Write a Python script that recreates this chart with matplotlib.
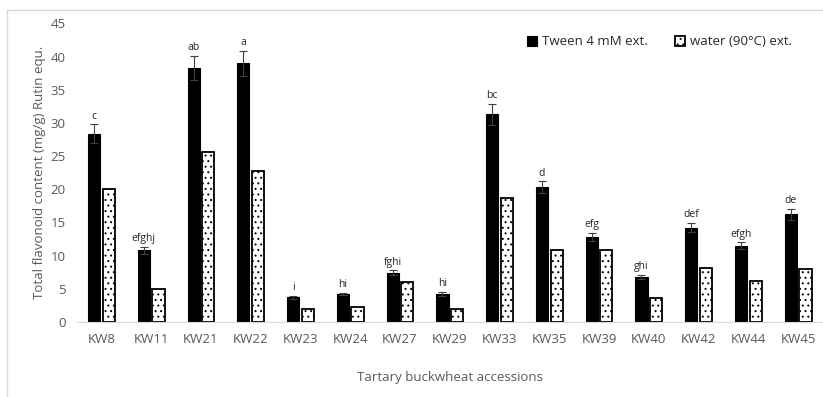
import numpy as np
import matplotlib.pyplot as plt
from matplotlib.lines import Line2D

plt.rcParams['font.family'] = ['Open Sans', 'DejaVu Sans']
plt.rcParams['hatch.linewidth'] = 0.7

# accessions and flavonoid content (mg/g rutin equivalents)
accessions = ["KW8", "KW11", "KW21", "KW22", "KW23", "KW24", "KW27", "KW29",
              "KW33", "KW35", "KW39", "KW40", "KW42", "KW44", "KW45"]
tween = [28.4, 10.8, 38.3, 39.0, 3.7, 4.2, 7.45, 4.2,
         31.3, 20.3, 12.8, 6.85, 14.2, 11.5, 16.2]
tween_err = [1.4, 0.5, 1.8, 1.9, 0.2, 0.2, 0.35, 0.3,
             1.6, 0.9, 0.6, 0.3, 0.7, 0.5, 0.85]
water = [20.0, 5.0, 25.6, 22.7, 1.9, 2.2, 6.0, 2.0,
         18.7, 10.9, 10.9, 3.6, 8.1, 6.2, 8.0]
letters = ["c", "efghj", "ab", "a", "i", "hi", "fghi", "hi",
           "bc", "d", "efg", "ghi", "def", "efgh", "de"]

grey = "#595959"
x = np.arange(len(accessions))
w = 0.245

fig = plt.figure(figsize=(8.23, 3.97), dpi=100)
ax = fig.add_axes([0.093, 0.189, 0.907, 0.752])

ax.bar(x - w / 2 - 0.025, tween, w, color="black", edgecolor="black",
       linewidth=0.8, label="Tween 4 mM ext.")
ax.errorbar(x - w / 2 - 0.025, tween, yerr=tween_err, fmt="none",
            ecolor="#404040", elinewidth=0.8, capsize=3, capthick=0.8)
ax.bar(x + w / 2 + 0.025, water, w, color="white", edgecolor="black",
       linewidth=1.3, hatch="...", label="water (90°C) ext.")

for xi, t, e, lab in zip(x, tween, tween_err, letters):
    ax.text(xi - w / 2 - 0.025, t + e + 0.4, lab, ha="center", va="bottom",
            fontsize=7.5, color="#262626")

ax.set_xlim(-0.5, len(accessions) - 0.5)
ax.set_ylim(0, 45)
ax.set_yticks(np.arange(0, 46, 5))
ax.set_xticks(x)
ax.set_xticklabels(accessions)
ax.tick_params(axis="both", length=0, colors=grey, labelsize=9.5)
ax.tick_params(axis="x", pad=8)
ax.tick_params(axis="y", pad=8)
for s in ["top", "right", "left"]:
    ax.spines[s].set_visible(False)
ax.spines["bottom"].set_color("#d9d9d9")

ax.set_ylabel("Total flavonoid content (mg/g) Rutin equ.", color=grey,
              fontsize=9.5, labelpad=3)
ax.set_xlabel("Tartary buckwheat accessions", color=grey, fontsize=9.5,
              labelpad=18)

leg = ax.legend(loc="upper right", bbox_to_anchor=(0.975, 1.0), ncol=2,
                frameon=False, fontsize=9.5, handlelength=0.8,
                handleheight=0.8, columnspacing=2.0, handletextpad=0.4)
for t in leg.get_texts():
    t.set_color("#262626")

# chart area border (left and top only)
fig.add_artist(Line2D([0.0085, 0.0085], [0.0, 0.975], color="#d9d9d9",
                      linewidth=1, transform=fig.transFigure))
fig.add_artist(Line2D([0.0085, 1.0], [0.975, 0.975], color="#d9d9d9",
                      linewidth=1, transform=fig.transFigure))

fig.savefig("out.png", dpi=100, facecolor="white")
